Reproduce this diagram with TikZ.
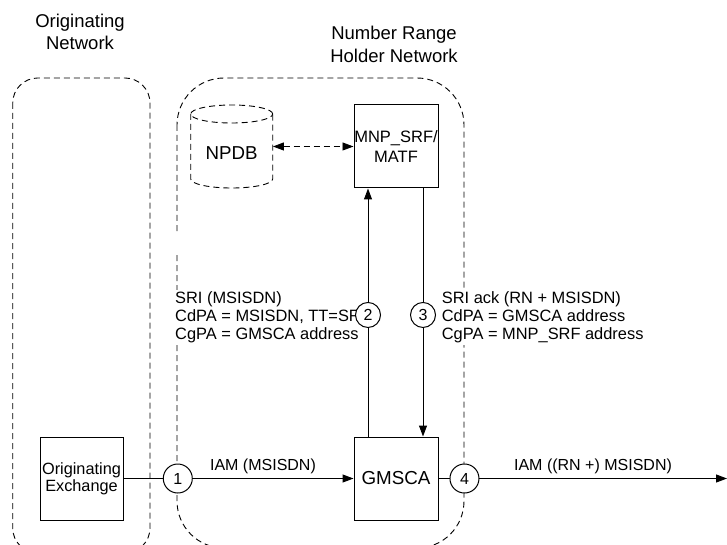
\documentclass[tikz,border=0pt]{standalone}
\usepackage{fontspec}
\setmainfont{Liberation Sans}
\usetikzlibrary{arrows.meta}
\begin{document}
\begin{tikzpicture}[x=1pt,y=-1pt,
  net/.style={draw, dash pattern=on 6pt off 4pt, line width=0.9pt},
  boxnode/.style={draw, line width=1pt, minimum width=84pt, minimum height=83pt, inner sep=0pt, align=center},
  msg/.style={font=\fontsize{16.4}{18}\selectfont, align=left, inner xsep=0pt, inner ysep=2pt, fill=white, anchor=north west},
  lab/.style={font=\fontsize{16}{19}\selectfont, inner sep=0pt, anchor=base},
  ttl/.style={font=\fontsize{18.5}{22.6}\selectfont, align=center, inner sep=0pt, anchor=north},
  num/.style={draw, circle, fill=white, line width=1pt, inner sep=0pt, font=\fontsize{16}{16}\selectfont},
  arr/.style={line width=1pt, -{Triangle[length=11pt,width=8pt]}},
]
\useasboundingbox (0,0) rectangle (727,545);
\clip (0,0) rectangle (727,545);

% titles
\node[ttl] (orignet) at (80,13.5) {Originating\\Network};
\node[ttl] (nrhnet) at (394,26.3) {Number Range\\Holder Network};

% network areas
\draw[net, rounded corners=25pt] (12.7,78) rectangle (150,553);
\draw[net, rounded corners=47pt] (177,78) rectangle (464,548);
\fill[white] (172,232) rectangle (182,255);

% message texts
\node[msg] (sri) at (175,289.8) {SRI (MSISDN)\\CdPA = MSISDN, TT=SRI\\CgPA = GMSCA address};
\node[msg] (sriack) at (441.7,289.8) {SRI ack (RN + MSISDN)\\CdPA = GMSCA address\\CgPA = MNP\_SRF address};

% NPDB cylinder
\draw[net] (231.7,114) ellipse [x radius=41pt, y radius=9pt];
\draw[net] (190.7,114) -- (190.7,179) arc[start angle=180, end angle=360, x radius=41pt, y radius=9pt] -- (272.7,114);
\node[minimum width=82pt, inner sep=0pt, font=\fontsize{18.7}{20}\selectfont] (npdb) at (231.7,153) {NPDB};

% boxes
\node[boxnode, minimum width=83pt, font=\fontsize{16.3}{17}\selectfont] (orig) at (81.5,478.5) {Originating\\Exchange};
\node[boxnode, font=\fontsize{16.5}{20}\selectfont] (mnp) at (396,146.5) {MNP\_SRF/\\MATF};
\node[boxnode, font=\fontsize{18.8}{20}\selectfont] (gmsca) at (396,478.5) {GMSCA};
\coordinate (out) at (727,478.5);

% connectors
\draw[net, {Triangle[length=11pt,width=8pt]}-{Triangle[length=11pt,width=8pt]}] (npdb.east |- mnp.west) -- (mnp.west);
\draw[arr] ([xshift=-28pt]gmsca.north) -- node[num, minimum size=25pt, pos=0.49] (c2) {2} ([xshift=-28pt]mnp.south);
\draw[arr] ([xshift=27pt]mnp.south) -- node[num, minimum size=25pt, pos=0.51] (c3) {3} ([xshift=27pt]gmsca.north);
\draw[arr] (orig.east) -- node[num, minimum size=29pt, pos=0.236] (c1) {1} (gmsca.west);
\draw[arr] (gmsca.east) -- node[num, minimum size=29pt, pos=0.09] (c4) {4} (out);

% labels
\node[lab] (iam1) at (263,470) {IAM (MSISDN)};
\node[lab] (iam2) at (593,470) {IAM ((RN +) MSISDN)};
\end{tikzpicture}
\end{document}
